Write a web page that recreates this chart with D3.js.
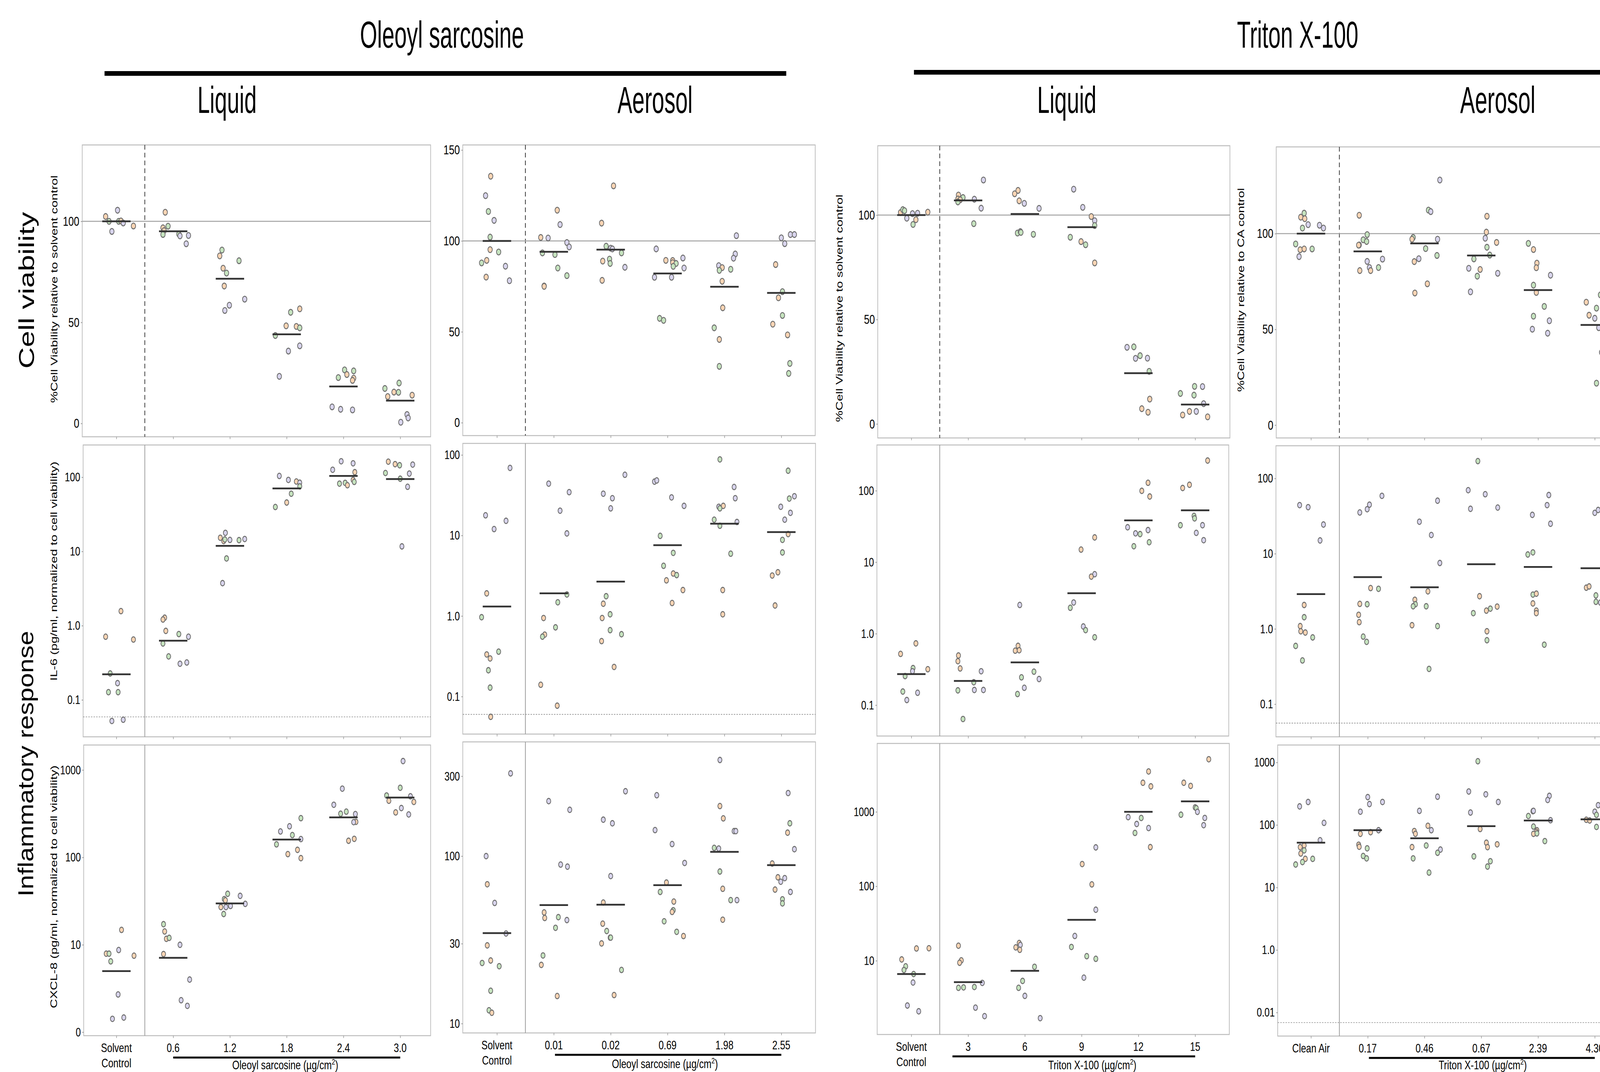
<!DOCTYPE html>
<html>
<head>
<meta charset="utf-8">
<script src="https://cdn.jsdelivr.net/npm/d3@7"></script>
<style>
  html, body { margin: 0; padding: 0; background: #fff; overflow: hidden; }
  svg { display: block; }
</style>
</head>
<body>
<script>

// ---- categories ----
const osLiqCats = ["Solvent\nControl", "0.6", "1.2", "1.8", "2.4", "3.0"];
const osAerCats = ["Solvent\nControl", "0.01", "0.02", "0.69", "1.98", "2.55"];
const txLiqCats = ["Solvent\nControl", "3", "6", "9", "12", "15"];
const txAerCats = ["Clean Air", "0.17", "0.46", "0.67", "2.39", "4.30"];

// ---- points: [replicate, jitter (fraction of category step), value] ----
const osLiqViab = [
  [["o",-0.19,102.4],["g",-0.13,100],["l",0.02,105.5],["l",-0.08,95],["g",0.04,100],["o",0.08,100.2],["l",0.12,99.2],["o",0.30,97.7]],
  [["o",-0.14,104.5],["o",-0.18,96.8],["o",-0.16,95.4],["g",-0.09,97.6],["g",-0.18,93.5],["g",0.10,93.7],["l",0.12,92.8],["l",0.27,93],["l",0.23,88.9]],
  [["g",-0.14,85.8],["o",-0.18,82.9],["g",0.16,80.5],["o",-0.12,76.8],["g",-0.06,74.4],["o",-0.10,68],["l",0.26,61.5],["l",-0.01,58.5],["l",-0.09,55.9]],
  [["o",0.23,56.7],["g",0.07,55],["o",-0.01,48.3],["o",0.17,48],["g",0.23,47.3],["g",-0.20,43.5],["l",0.23,38.4],["l",0.03,35.8],["l",-0.13,23.3]],
  [["g",0.02,26.5],["g",0.18,26],["o",0.06,24.2],["g",-0.09,22.7],["o",0.18,22.4],["o",0.16,21.3],["l",-0.20,8.2],["l",-0.05,7],["l",0.16,6.7]],
  [["g",-0.02,20],["g",-0.27,17.3],["o",-0.11,15.5],["g",-0.03,15.4],["o",-0.22,13.3],["o",0.21,14],["l",0.12,4.4],["l",0.14,2.7],["l",0.01,0.6]]
];
const osLiqViabMeans = [100, 95.1, 71.6, 44.1, 18.3, 11.3];

const osAerViab = [
  [["o",-0.11,135.6],["l",-0.20,124.9],["g",-0.15,116.2],["l",-0.05,111.3],["g",-0.12,102.1],["o",-0.12,95.2],["g",0.03,93.9],["g",-0.27,87.9],["o",-0.18,89.3],["l",0.15,86.1],["o",-0.19,80.1],["l",0.22,78.1]],
  [["o",0.06,116.9],["l",0.11,109],["o",-0.23,101.9],["l",-0.10,101.6],["l",0.23,99.1],["l",0.27,96.7],["g",-0.20,93.4],["g",0.02,92.5],["g",0.07,85.1],["g",0.23,80.9],["o",-0.17,75.2],["o",-0.17,75]],
  [["o",0.05,130.3],["o",-0.16,109.8],["g",-0.08,97.1],["l",0.00,96],["l",0.03,95.6],["g",0.19,93.4],["o",-0.14,88.9],["g",-0.02,90],["g",-0.01,87.6],["l",0.25,85.5],["o",-0.15,78.3]],
  [["l",-0.20,95.6],["o",-0.03,89.3],["o",0.09,89.2],["o",0.09,88],["g",0.15,87.6],["g",0.10,86],["l",0.27,90.6],["l",0.29,85.1],["l",-0.23,80],["l",0.07,80],["g",-0.14,57.4],["g",-0.07,56.3]],
  [["l",0.21,102.9],["l",0.19,92.8],["l",0.16,90.5],["l",-0.10,86.4],["o",-0.04,85.3],["g",-0.09,83.8],["g",0.11,84.4],["o",-0.04,77.8],["o",-0.03,63.2],["g",-0.18,52.2],["o",-0.09,45.8],["g",-0.09,31]],
  [["l",0.16,103.5],["l",0.23,103.5],["l",0.00,101.7],["l",0.06,98.5],["o",-0.10,87],["g",0.02,72.1],["o",-0.05,68.7],["g",0.02,59],["o",-0.15,54.2],["o",0.11,48.3],["g",0.15,32.6],["g",0.13,27.1]]
];
const osAerViabMeans = [100, 94.0, 95.2, 82.1, 74.8, 71.4];

const txLiqViab = [
  [["o",-0.19,101.2],["g",-0.15,102.6],["g",-0.12,102.1],["l",-0.08,98.5],["l",0.02,100.7],["l",0.11,100.9],["o",0.08,97.8],["g",0.03,95.5],["o",0.29,101.4]],
  [["l",0.27,116.8],["o",-0.17,109.6],["o",-0.18,107.7],["g",-0.09,108.4],["o",-0.14,107.3],["g",-0.18,106.3],["l",0.11,107.6],["l",0.23,103.3],["g",0.10,95.9]],
  [["o",-0.12,111.8],["o",-0.18,110.2],["o",-0.10,106.8],["l",-0.01,105.6],["l",0.25,103.2],["g",-0.13,91.4],["l",-0.08,92.1],["g",-0.07,91.7],["g",0.15,90.8]],
  [["l",-0.14,112.4],["l",0.02,103.7],["o",0.17,99.3],["l",0.23,97.3],["g",0.23,95],["g",-0.20,89.4],["o",-0.01,87.3],["g",0.07,85.8],["o",0.23,77.1]],
  [["l",-0.20,36.7],["g",-0.08,36.9],["l",-0.05,31.4],["g",0.03,32.7],["l",0.16,31.5],["g",0.19,25.2],["o",0.20,11.9],["o",0.06,7.3],["o",0.17,5.6]],
  [["g",-0.01,18],["l",0.13,17.9],["g",-0.26,14.6],["g",-0.02,13.8],["l",0.15,9.7],["o",-0.22,4.3],["o",-0.10,6],["l",0.02,6],["o",0.22,3.4]]
];
const txLiqViabMeans = [100, 107.0, 100.5, 94.2, 24.3, 9.3];

const txAerViab = [
  [["g",-0.12,110.7],["o",-0.18,108.6],["o",-0.11,107.8],["l",-0.05,104.7],["g",-0.15,102.9],["l",0.15,104.4],["l",0.22,102.9],["g",-0.27,94.6],["o",-0.19,91.6],["o",-0.12,92],["g",0.02,92],["l",-0.21,88]],
  [["o",-0.15,109.6],["g",-0.01,99.5],["g",-0.08,96.8],["g",-0.02,95.9],["l",-0.15,94.1],["o",-0.16,94],["l",0.26,86.7],["l",-0.01,85.5],["l",0.03,82.3],["g",0.19,82.3],["o",0.05,80.7],["o",-0.14,80.7]],
  [["l",0.27,128],["g",0.07,112.3],["l",0.11,111.5],["g",-0.20,98],["o",-0.22,97.1],["l",0.23,97.1],["g",0.02,92.2],["g",0.22,88.6],["l",-0.10,86.9],["o",-0.18,85.4],["o",0.05,73.8],["o",-0.17,69]],
  [["o",0.10,109.1],["o",0.09,100.8],["l",0.07,97.6],["o",0.27,95.4],["g",0.10,92.9],["g",0.15,88.8],["g",-0.13,86.8],["l",-0.22,81.9],["o",-0.02,81.3],["l",0.29,79.3],["g",-0.07,77.8],["l",-0.19,69.6]],
  [["g",-0.17,94.9],["o",-0.08,91.7],["o",-0.02,84.6],["o",-0.03,82.2],["l",0.22,78.3],["g",-0.08,73.1],["o",-0.03,69.3],["g",0.11,62],["g",-0.08,56.9],["l",0.20,54.5],["l",-0.10,50.1],["l",0.17,48]],
  [["o",-0.15,64.2],["g",0.03,61.1],["o",-0.10,57.4],["l",0.00,55.8],["l",0.07,50.9],["g",0.03,21.9],["g",0.10,68],["l",0.12,38],["o",0.20,60],["l",0.25,45],["g",0.28,56]]
];
const txAerViabMeans = [100, 90.7, 94.9, 88.6, 70.5, 52.3];

const osLiqIL6 = [
  [["o",0.08,1.57],["o",-0.19,0.71],["o",0.30,0.65],["g",-0.11,0.227],["l",0.02,0.168],["g",-0.14,0.127],["g",0.03,0.127],["l",-0.08,0.052],["l",0.12,0.054]],
  [["o",-0.15,1.28],["o",-0.18,1.21],["o",-0.13,0.85],["g",0.10,0.77],["l",0.27,0.71],["g",-0.18,0.575],["g",-0.08,0.385],["l",0.12,0.307],["l",0.24,0.319]],
  [["l",-0.08,17.8],["o",-0.17,15.3],["o",-0.11,13.8],["g",-0.09,14.5],["l",0.00,14.3],["g",0.16,14.2],["l",0.26,14.7],["g",-0.06,8.05],["l",-0.13,3.74]],
  [["l",-0.13,104],["l",0.03,92],["o",0.17,87.5],["l",0.23,84.3],["g",0.23,75.3],["g",0.08,60],["o",0.00,45.6],["g",-0.20,39.7]],
  [["l",-0.04,164],["l",0.17,154],["l",-0.19,126],["o",0.20,117],["g",-0.07,82],["g",0.03,84],["o",0.07,78],["o",0.17,92],["g",0.19,86.5]],
  [["o",-0.21,162],["o",-0.09,150],["g",-0.01,145],["l",0.22,148],["g",-0.26,114],["l",0.16,112],["g",0.00,95.5],["l",0.13,74.3],["l",0.03,11.7]]
];
const osLiqIL6Means = [0.221, 0.628, 11.9, 70.7, 104, 94.4];

const osAerIL6 = [
  [["l",0.23,69],["l",-0.20,17.8],["l",0.16,15.2],["l",-0.05,12],["o",-0.18,1.91],["g",-0.27,0.966],["o",-0.18,0.333],["o",-0.12,0.297],["g",0.03,0.361],["g",-0.15,0.212],["g",-0.12,0.129],["o",-0.11,0.056]],
  [["l",-0.09,44],["l",0.27,34.5],["l",0.11,20.3],["l",0.23,10.6],["g",0.23,1.85],["g",0.07,1.48],["o",-0.18,0.944],["g",0.03,0.723],["o",-0.16,0.587],["g",-0.20,0.554],["o",-0.23,0.14],["o",0.06,0.077]],
  [["l",0.25,56.7],["l",-0.13,33],["l",0.03,29],["l",0.00,21.7],["g",-0.08,1.76],["o",-0.13,1.42],["g",-0.01,1.05],["o",-0.15,0.944],["g",-0.01,0.667],["g",0.19,0.594],["o",-0.16,0.488],["o",0.06,0.233]],
  [["l",-0.23,46.6],["l",-0.19,48.2],["l",0.07,29.7],["l",0.29,23.3],["g",-0.13,9.89],["g",0.10,6.08],["g",-0.07,4.2],["o",0.10,3.37],["g",0.16,3.22],["o",-0.02,2.77],["o",0.27,2.1],["o",0.08,1.45]],
  [["g",-0.08,88],["l",0.17,40],["l",0.19,29],["l",-0.10,22.7],["o",-0.02,23.3],["g",-0.08,21.7],["g",-0.18,15.7],["g",-0.08,13.2],["l",0.22,14.7],["g",0.11,5.94],["o",-0.03,2.1],["o",-0.03,1.05]],
  [["g",0.12,63.7],["l",0.23,30.7],["g",0.14,28.7],["l",-0.01,22.7],["l",0.16,19.1],["l",0.06,15.7],["o",0.12,10.4],["g",0.02,8.81],["g",0.02,6.15],["o",-0.06,3.49],["o",-0.16,3.18],["o",-0.11,1.35]]
];
const osAerIL6Means = [1.31, 1.91, 2.67, 7.57, 14.0, 11.0];

const txLiqIL6 = [
  [["o",0.08,0.731],["o",-0.19,0.521],["g",0.03,0.33],["l",0.02,0.298],["o",0.29,0.318],["g",-0.11,0.255],["g",-0.15,0.155],["l",0.11,0.149],["l",-0.08,0.118]],
  [["o",-0.17,0.495],["o",-0.18,0.412],["o",-0.14,0.326],["l",0.23,0.298],["g",0.10,0.209],["g",-0.18,0.161],["l",0.11,0.163],["l",0.27,0.163],["g",-0.09,0.064]],
  [["l",-0.09,2.52],["o",-0.12,0.676],["o",-0.17,0.578],["o",-0.10,0.586],["g",0.16,0.294],["g",-0.06,0.245],["l",0.25,0.232],["l",-0.01,0.175],["g",-0.13,0.143]],
  [["o",0.23,22.2],["o",-0.01,15],["l",0.23,6.79],["o",0.17,6.28],["l",-0.14,2.73],["g",-0.20,2.3],["l",0.03,1.26],["g",0.07,1.12],["g",0.23,0.89]],
  [["o",0.17,129],["o",0.06,99.5],["o",0.20,82.9],["l",-0.19,30.8],["l",0.17,28.1],["l",-0.05,25.3],["g",0.03,24.7],["g",-0.08,16.7],["g",0.19,19]],
  [["o",0.22,264],["o",-0.10,121],["o",-0.22,109],["g",-0.02,44.4],["g",-0.01,41],["g",-0.26,32.9],["l",0.13,32.9],["l",0.02,25.7],["l",0.15,20.3]]
];
const txLiqIL6Means = [0.272, 0.218, 0.396, 3.68, 38.4, 53.2];

const txAerIL6 = [
  [["l",-0.20,44.2],["l",-0.05,41.5],["l",0.22,24.4],["l",0.16,15],["o",-0.12,2.08],["g",-0.12,1.43],["o",-0.19,1.09],["o",-0.18,0.93],["o",-0.10,0.895],["g",0.03,0.771],["g",-0.27,0.594],["g",-0.15,0.381]],
  [["l",0.25,58.7],["l",0.03,44.8],["l",-0.01,39],["l",-0.14,35.3],["o",0.05,3.49],["g",0.19,3.41],["o",-0.14,2.15],["g",-0.01,2.13],["o",-0.16,1.54],["o",-0.15,1.23],["g",-0.08,0.79],["g",-0.02,0.673]],
  [["l",0.23,50.6],["l",-0.09,26.6],["l",0.12,17.7],["l",0.27,7.52],["o",0.06,3.16],["o",-0.17,2.44],["g",-0.16,2.13],["g",-0.20,2.0],["g",0.03,2.0],["o",-0.22,1.12],["g",0.23,1.09],["g",0.08,0.294]],
  [["g",-0.06,170],["l",-0.23,69.8],["l",0.07,61.7],["l",-0.19,39.5],["l",0.29,41],["o",-0.03,2.72],["g",-0.14,1.62],["o",0.09,1.75],["g",0.16,1.86],["o",0.28,1.98],["o",0.10,0.93],["g",0.10,0.707]],
  [["l",0.19,60.2],["l",0.16,44.2],["l",-0.10,32.8],["l",0.22,25],["g",-0.09,10.4],["g",-0.18,9.75],["g",-0.09,2.86],["o",-0.03,2.94],["o",-0.09,2.18],["o",-0.03,1.75],["o",-0.03,1.62],["g",0.11,0.617]],
  [["l",0.00,34.9],["l",0.06,38.1],["o",-0.15,3.53],["o",-0.10,3.67],["g",0.02,2.79],["g",0.02,2.29],["l",0.10,2.24],["l",0.20,30],["g",0.25,1.5],["o",0.22,4.5]]
];
const txAerIL6Means = [2.90, 4.88, 3.58, 7.25, 6.65, 6.4];

const osLiqCXCL8 = [
  [["o",0.09,14.8],["l",0.04,8.71],["o",-0.18,7.91],["g",-0.13,7.91],["o",0.31,7.5],["g",-0.10,6.46],["l",0.03,2.7],["l",-0.07,1.42],["l",0.13,1.47]],
  [["g",-0.17,17.2],["o",-0.15,14.2],["o",-0.12,11.7],["g",-0.07,12],["l",0.12,10],["o",-0.17,7.83],["l",0.29,4.0],["l",0.14,2.32],["l",0.25,2.0]],
  [["g",-0.04,38.3],["l",0.18,36.3],["g",-0.10,33.3],["o",-0.08,32.3],["l",0.27,29.4],["o",-0.16,27],["l",-0.07,27],["l",0.01,27.8],["g",-0.11,22.5]],
  [["g",0.25,281],["l",0.05,227],["l",-0.11,198],["g",0.10,180],["l",0.25,162],["g",-0.18,141],["o",0.19,122],["o",0.02,109],["o",0.25,98]],
  [["l",-0.02,612],["l",-0.17,400],["g",-0.05,316],["g",0.05,334],["l",0.21,313],["o",0.22,255],["l",0.18,253],["o",0.19,163],["o",0.09,155]],
  [["l",0.05,1265],["g",0.00,626],["g",-0.24,511],["l",0.18,500],["o",-0.20,445],["o",0.24,431],["l",0.02,367],["o",-0.08,327],["l",0.15,310]]
];
const osLiqCXCL8Means = [5.0, 7.1, 29.7, 160, 287, 484];

const osAerCXCL8 = [
  [["l",0.24,312],["l",-0.19,100],["o",-0.17,67.9],["l",-0.04,52.5],["l",0.16,34.5],["o",-0.17,29.3],["g",-0.26,23],["o",-0.11,23.8],["g",0.04,22],["g",-0.11,15.7],["g",-0.14,12],["o",-0.09,11.6]],
  [["l",-0.09,213],["l",0.28,189],["l",0.12,89],["l",0.24,86.5],["o",-0.17,46.1],["o",-0.16,42.7],["g",0.08,43.2],["l",0.23,41.5],["g",0.03,37.3],["g",-0.19,25.5],["o",-0.22,22.4],["o",0.06,14.6]],
  [["l",0.26,244],["l",-0.13,165],["l",0.03,157],["l",0.00,76],["o",-0.13,52.8],["o",-0.14,39.5],["g",-0.07,35.7],["g",-0.01,32.6],["g",0.00,32.6],["o",-0.16,30.1],["g",0.19,20.9],["o",0.06,14.8]],
  [["l",-0.19,231],["l",-0.22,143],["l",0.08,118],["l",0.30,91],["o",-0.02,69.5],["g",-0.13,61.1],["o",0.11,53.5],["g",0.10,47.5],["o",0.08,46.4],["g",-0.06,40.8],["g",0.16,35.3],["o",0.28,33.3]],
  [["l",-0.08,375],["o",-0.08,199],["o",-0.02,168],["l",0.17,141],["l",0.20,141],["g",-0.18,112],["l",-0.10,111],["g",-0.08,80.9],["o",-0.03,63.8],["g",0.11,54.6],["l",0.22,54.6],["o",-0.03,41.7]],
  [["l",0.12,238],["g",0.15,157],["o",0.11,138],["l",0.23,110],["o",-0.16,90.3],["o",-0.06,74.7],["l",0.06,73.9],["l",-0.01,70.3],["o",-0.11,63.1],["l",0.16,61.1],["g",0.02,55.2],["g",0.02,52.2]]
];
const osAerCXCL8Means = [34.7, 51, 51.3, 67.1, 106, 88.3];

const txLiqCXCL8 = [
  [["o",0.09,14.6],["o",0.31,14.7],["o",-0.17,10.4],["g",-0.10,8.4],["g",-0.13,7.5],["g",0.04,6.62],["l",0.03,5.09],["l",-0.07,2.5],["l",0.13,2.09]],
  [["o",-0.17,15.9],["o",-0.12,10.1],["o",-0.15,9.39],["l",0.25,5.03],["g",-0.17,4.32],["g",-0.08,4.38],["g",0.11,4.43],["l",0.13,2.34],["l",0.29,1.8]],
  [["o",-0.10,17.3],["l",-0.08,16.3],["o",-0.16,15.1],["o",-0.09,14],["g",0.17,8.28],["g",-0.04,5.35],["g",-0.11,4.32],["l",0.00,3.37],["l",0.27,1.69]],
  [["l",0.25,333],["o",0.01,199],["o",0.18,106],["l",0.25,48.4],["l",-0.12,21.5],["g",-0.18,15.3],["g",0.09,11.5],["g",0.25,10.6],["l",0.04,5.92]],
  [["o",0.18,3490],["o",0.08,2460],["o",0.22,2200],["l",-0.18,849],["g",0.05,828],["l",-0.03,687],["l",0.18,606],["g",-0.06,521],["o",0.21,336]],
  [["o",0.24,5090],["o",-0.20,2460],["o",-0.08,2230],["g",0.00,1148],["g",0.02,1120],["l",0.04,1000],["g",-0.25,916],["l",0.17,828],["l",0.15,662]]
];
const txLiqCXCL8Means = [6.62, 5.15, 7.31, 35.4, 1000, 1383];

const txAerCXCL8 = [
  [["l",-0.05,233],["l",-0.20,198],["l",0.23,108],["l",0.16,56.9],["o",-0.12,46.9],["o",-0.19,44.2],["g",-0.12,39.2],["o",-0.18,34.9],["o",-0.10,28.7],["g",0.03,28.7],["g",-0.15,25.5],["g",-0.27,23.3]],
  [["l",0.00,279],["l",0.26,233],["l",0.03,216],["l",-0.13,163],["o",0.05,76.6],["l",0.19,82.4],["o",-0.13,72.1],["o",-0.16,48.3],["o",-0.15,44.8],["g",-0.01,42.3],["g",-0.08,31.9],["g",-0.02,29.2]],
  [["l",0.23,283],["l",-0.09,168],["o",0.06,97.1],["o",-0.18,79.9],["o",-0.16,72.1],["l",0.12,82.4],["g",0.03,46.9],["o",-0.22,44.2],["l",0.28,40.4],["g",0.23,35.9],["g",-0.20,29.2],["g",0.08,17.3]],
  [["g",-0.06,1045],["l",-0.22,343],["l",0.08,309],["l",0.30,233],["l",-0.19,158],["o",-0.02,86.1],["o",0.09,52],["o",0.28,49],["o",0.11,44.2],["g",-0.13,31.4],["g",0.16,26.3],["g",0.11,21.6]],
  [["l",0.20,292],["l",0.17,251],["l",-0.09,166],["l",-0.08,168],["g",-0.17,139],["l",0.22,119],["g",-0.08,94.2],["o",-0.02,82.4],["o",-0.03,77.6],["o",-0.08,72.1],["g",-0.02,73.2],["g",0.12,55.2]],
  [["l",0.06,207],["l",0.00,163],["o",-0.15,121],["o",-0.09,118],["g",0.03,145],["g",0.03,92.9],["l",0.20,300],["g",0.22,60],["o",0.25,130]]
];
const txAerCXCL8Means = [52, 82.4, 61.3, 95.7, 118, 123];

// ---- tick values and labels ----
const viabTicks = [0, 50, 100];
const viabTicks150 = [0, 50, 100, 150];
const il6Ticks = [0.1, 1, 10, 100];
const il6Labels = ["0.1", "1.0", "10", "100"];
const osLiqCxTicks = [1, 10, 100, 1000];
const osLiqCxLabels = ["0", "10", "100", "1000"];
const osAerCxTicks = [10, 30, 100, 300];
const txLiqCxTicks = [10, 100, 1000];
const txAerCxTicks = [0.1, 1, 10, 100, 1000];
const txAerCxLabels = ["0.01", "1.0", "10", "100", "1000"];

const SANS = "'Liberation Sans', Arial, sans-serif";
const fillColor = { o: "#fcd5b4", g: "#c6e4bf", l: "#d9d5ee" };

const W = 5525, H = 2744;
const vw = window.innerWidth || W;
const vh = window.innerHeight || H;

// the drawing is laid out in a 5525 x 2744 box and fitted to the window
const svg = d3.select("body").append("svg")
  .attr("width", vw).attr("height", vh)
  .attr("viewBox", "0 0 " + W + " " + H)
  .attr("preserveAspectRatio", "none")
  .style("background", "#fff");

// column geometry: first category centre and step; rows: box edges
const cols = [
  { cx0: 402, step: 196, cats: osLiqCats, brX0: 0, brLabel: "Oleoyl sarcosine (µg/cm", brCx: 985,
    boxes: [[284, 1487, 371, 1118], [287, 1487, 1139, 1886], [289, 1487, 1907, 2651]] },
  { cx0: 1716, step: 196.4, cats: osAerCats, brX0: 4, brLabel: "Oleoyl sarcosine (µg/cm", brCx: 2296,
    boxes: [[1598, 2815, 371, 1115], [1598, 2816, 1135, 1879], [1598, 2816, 1899, 2644]] },
  { cx0: 3147, step: 196, cats: txLiqCats, brX0: -54, brLabel: "Triton X-100 (µg/cm", brCx: 3772,
    boxes: [[3031, 4247, 373, 1121], [3028, 4243, 1139, 1884], [3029, 4245, 1903, 2648]] },
  { cx0: 4527, step: 196, cats: txAerCats, brX0: 4, brLabel: "Triton X-100 (µg/cm", brCx: 5120,
    boxes: [[4407, 5627, 376, 1121], [4406, 5627, 1141, 1886], [4412, 5627, 1907, 2652]] }
];

const panels = [
  { col: 0, row: 0, data: osLiqViab, means: osLiqViabMeans, log: false, domain: [-6.6, 137.8], ticks: viabTicks,
    title: "%Cell Viability relative to solvent control", titleX: 187, titleY: 740 },
  { col: 1, row: 0, data: osAerViab, means: osAerViabMeans, log: false, domain: [-7.1, 152.8], ticks: viabTicks150 },
  { col: 2, row: 0, data: txLiqViab, means: txLiqViabMeans, log: false, domain: [-6.7, 133.2], ticks: viabTicks,
    title: "%Cell Viability relative to solvent control", titleX: 2898, titleY: 789 },
  { col: 3, row: 0, data: txAerViab, means: txAerViabMeans, log: false, domain: [-6.7, 145.3], ticks: viabTicks,
    title: "%Cell Viability relative to CA control", titleX: 4285, titleY: 742 },

  { col: 0, row: 1, data: osLiqIL6, means: osLiqIL6Means, log: true, domain: [0.0318, 272], ticks: il6Ticks, labels: il6Labels, lod: 0.059,
    title: "IL-6 (pg/ml, normalized to cell viability)", titleX: 185, titleY: 1462 },
  { col: 1, row: 1, data: osAerIL6, means: osAerIL6Means, log: true, domain: [0.0342, 139], ticks: il6Ticks, labels: il6Labels, lod: 0.06 },
  { col: 2, row: 1, data: txLiqIL6, means: txLiqIL6Means, log: true, domain: [0.037, 436], ticks: il6Ticks, labels: il6Labels },
  { col: 3, row: 1, data: txAerIL6, means: txAerIL6Means, log: true, domain: [0.0368, 272], ticks: il6Ticks, labels: il6Labels, lod: 0.056 },

  { col: 0, row: 2, data: osLiqCXCL8, means: osLiqCXCL8Means, log: true, domain: [0.912, 1932], ticks: osLiqCxTicks, labels: osLiqCxLabels,
    title: "CXCL-8 (pg/ml, normalized to cell viability)", titleX: 185, titleY: 2270 },
  { col: 1, row: 2, data: osAerCXCL8, means: osAerCXCL8Means, log: true, domain: [8.79, 481], ticks: osAerCxTicks },
  { col: 2, row: 2, data: txLiqCXCL8, means: txLiqCXCL8Means, log: true, domain: [1.02, 8300], ticks: txLiqCxTicks },
  { col: 3, row: 2, data: txAerCXCL8, means: txAerCXCL8Means, log: true, domain: [0.042, 1900], ticks: txAerCxTicks, labels: txAerCxLabels, lod: 0.069 }
];

function drawPanel(p) {
  let c = cols[p.col];
  let b = c.boxes[p.row];
  let x0 = b[0], x1 = b[1], y0 = b[2], y1 = b[3];

  let xScale = d3.scalePoint()
    .domain(c.cats)
    .range([c.cx0, c.cx0 + 5 * c.step]);

  let yScale = (p.log ? d3.scaleLog() : d3.scaleLinear())
    .domain(p.domain)
    .range([y1, y0]);

  let g = svg.append("g");

  g.append("rect")
    .attr("x", x0).attr("y", y0)
    .attr("width", x1 - x0).attr("height", y1 - y0)
    .attr("fill", "none")
    .attr("stroke", "#bdbdbd")
    .attr("stroke-width", 2.5);

  // y axis
  let yAxis = d3.axisLeft(yScale)
    .tickValues(p.ticks)
    .tickSize(5)
    .tickPadding(5)
    .tickFormat((d, i) => p.labels ? p.labels[i] : d3.format("d")(d));
  let ya = g.append("g")
    .attr("transform", "translate(" + x0 + ",0)")
    .call(yAxis);
  ya.select(".domain").remove();
  ya.selectAll(".tick line").attr("stroke", "#999").attr("stroke-width", 2);
  ya.selectAll(".tick text")
    .attr("fill", "#000")
    .style("font-family", SANS)
    .style("font-size", p.row == 0 ? "34px" : "32px");

  // x axis ticks
  let xa = g.append("g")
    .attr("transform", "translate(0," + y1 + ")")
    .call(d3.axisBottom(xScale).tickSize(6).tickFormat(""));
  xa.select(".domain").remove();
  xa.selectAll(".tick line").attr("stroke", "#999").attr("stroke-width", 2);

  // separator between control and doses
  let sepX = (xScale(c.cats[0]) + xScale(c.cats[1])) / 2;
  g.append("line")
    .attr("x1", sepX).attr("x2", sepX)
    .attr("y1", y0).attr("y2", y1)
    .attr("stroke", p.row == 0 ? "#333" : "#9a9a9a")
    .attr("stroke-width", 2.5)
    .attr("stroke-dasharray", p.row == 0 ? "12,8" : null);

  if (p.row == 0) {
    g.append("line")
      .attr("x1", x0).attr("x2", x1)
      .attr("y1", yScale(100)).attr("y2", yScale(100))
      .attr("stroke", "#a3a3a3")
      .attr("stroke-width", 2.5);
  }

  if (p.lod) {
    g.append("line")
      .attr("x1", x0).attr("x2", x1)
      .attr("y1", yScale(p.lod)).attr("y2", yScale(p.lod))
      .attr("stroke", "#8c8c8c")
      .attr("stroke-width", 1.6)
      .attr("stroke-dasharray", "5,4");
  }

  // points
  let pts = [];
  p.data.forEach(function(grp, gi) {
    grp.forEach(function(d) {
      pts.push({ cat: c.cats[gi], rep: d[0], j: d[1], v: d[2] });
    });
  });

  g.selectAll(".pt")
    .data(pts)
    .enter()
    .append("circle")
    .attr("class", "pt")
    .attr("cx", d => xScale(d.cat) + d.j * c.step)
    .attr("cy", d => yScale(d.v))
    .attr("r", p.row == 0 ? 7.5 : 7)
    .attr("fill", d => fillColor[d.rep])
    .attr("stroke", "#6e6e6e")
    .attr("stroke-width", 2.6);

  // mean bars
  g.selectAll(".mean")
    .data(p.means)
    .enter()
    .append("line")
    .attr("class", "mean")
    .attr("x1", (d, i) => xScale(c.cats[i]) - 0.25 * c.step)
    .attr("x2", (d, i) => xScale(c.cats[i]) + 0.25 * c.step)
    .attr("y1", d => yScale(d))
    .attr("y2", d => yScale(d))
    .attr("stroke", "#333")
    .attr("stroke-width", 4.5);

  if (p.title) {
    svg.append("text")
      .attr("transform", "translate(" + p.titleX + "," + p.titleY + ") rotate(-90)")
      .attr("text-anchor", "middle")
      .attr("dominant-baseline", "central")
      .style("font-family", SANS)
      .style("font-size", "33px")
      .text(p.title);
  }

  // category labels and dose bracket under bottom row
  if (p.row == 2) {
    let lab = svg.append("g");
    c.cats.forEach(function(cat) {
      let t = lab.append("text")
        .attr("text-anchor", "middle")
        .style("font-family", SANS)
        .style("font-size", "32px");
      cat.split("\n").forEach(function(line, li) {
        t.append("tspan")
          .attr("x", xScale(cat))
          .attr("y", y1 + 42 + li * 39)
          .text(line);
      });
    });

    lab.append("line")
      .attr("x1", xScale(c.cats[1]) + c.brX0)
      .attr("x2", xScale(c.cats[5]))
      .attr("y1", y1 + 56).attr("y2", y1 + 56)
      .attr("stroke", "#000")
      .attr("stroke-width", 5);

    let bt = lab.append("text")
      .attr("x", c.brCx)
      .attr("y", Math.min(y1 + 90, 2737))
      .attr("text-anchor", "middle")
      .style("font-family", SANS)
      .style("font-size", "32px")
      .text(c.brLabel);
    bt.append("tspan").attr("dy", -12).style("font-size", "21px").text("2");
    bt.append("tspan").attr("dy", 12).text(")");
  }
}

panels.forEach(drawPanel);

// ---- headings (condensed look via horizontal scale) ----
const headings = [
  { text: "Oleoyl sarcosine", x: 1526, y: 122 },
  { text: "Triton X-100", x: 4481, y: 122 },
  { text: "Liquid", x: 784, y: 289 },
  { text: "Aerosol", x: 2262, y: 289 },
  { text: "Liquid", x: 3684, y: 289 },
  { text: "Aerosol", x: 5172, y: 289 }
];
svg.selectAll(".heading")
  .data(headings)
  .enter()
  .append("text")
  .attr("class", "heading")
  .attr("transform", d => "translate(" + d.x + "," + d.y + ") scale(0.79,1)")
  .attr("text-anchor", "middle")
  .style("font-family", SANS)
  .style("font-size", "97px")
  .text(d => d.text);

svg.append("line")
  .attr("x1", 361).attr("x2", 2715)
  .attr("y1", 188).attr("y2", 188)
  .attr("stroke", "#000").attr("stroke-width", 12);
svg.append("line")
  .attr("x1", 3156).attr("x2", 5560)
  .attr("y1", 185).attr("y2", 185)
  .attr("stroke", "#000").attr("stroke-width", 12);

// row labels
svg.append("text")
  .attr("transform", "translate(91,743) rotate(-90)")
  .attr("text-anchor", "middle")
  .attr("dominant-baseline", "central")
  .style("font-family", SANS)
  .style("font-size", "76px")
  .text("Cell viability");

svg.append("text")
  .attr("transform", "translate(88,1955) rotate(-90) scale(0.88,1)")
  .attr("text-anchor", "middle")
  .attr("dominant-baseline", "central")
  .style("font-family", SANS)
  .style("font-size", "76px")
  .text("Inflammatory response");

</script>
</body>
</html>
